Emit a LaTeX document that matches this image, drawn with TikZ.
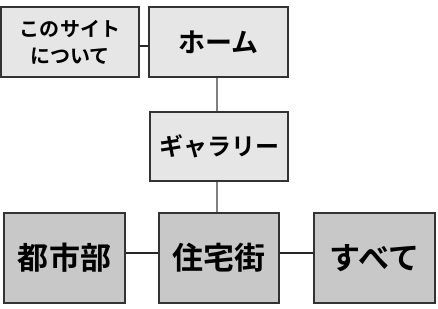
\documentclass[tikz,border=0pt]{standalone}
\usepackage{fontspec}
\newfontfamily\jpfont{Noto Sans CJK JP}[BoldFont=* Bold]
\definecolor{toplight}{HTML}{E6E6E6}
\definecolor{botdark}{HTML}{C8C8C8}
\definecolor{linkgray}{HTML}{808080}
\tikzset{
  pagebox/.style={draw=black!80, line width=1.2bp, align=center, inner sep=0pt, font=\jpfont\bfseries},
  upperbox/.style={pagebox, fill=toplight},
  lowerbox/.style={pagebox, fill=botdark, minimum width=121bp, minimum height=90bp, font=\jpfont\bfseries\fontsize{31bp}{34bp}\selectfont},
  link/.style={line width=1.2bp, black!85},
  downlink/.style={line width=1.6bp, linkgray}
}
\begin{document}
\begin{tikzpicture}[x=1bp, y=-1bp]
    \useasboundingbox (0,0) rectangle (438,308);
    \node[upperbox, minimum width=138bp, minimum height=70bp, font=\jpfont\bfseries\fontsize{20bp}{27bp}\selectfont] (about) at (70,42) {このサイト\\について};
    \node[upperbox, minimum width=139bp, minimum height=70bp, font=\jpfont\bfseries\fontsize{27bp}{30bp}\selectfont] (home) at (218.5,42) {ホーム};
    \node[upperbox, minimum width=138bp, minimum height=69bp, font=\jpfont\bfseries\fontsize{24bp}{28bp}\selectfont] (gallery) at (219,146.5) {ギャラリー};
    \node[lowerbox] (city) at (64.5,258) {都市部};
    \node[lowerbox, minimum width=120bp] (suburb) at (219,258) {住宅街};
    \node[lowerbox] (all) at (374.5,258) {すべて};
    \draw[link] ([yshift=-4bp]about.east) -- ([yshift=-4bp]home.west);
    \draw[downlink] ([xshift=-1.5bp]home.south) -- ([xshift=-2bp]gallery.north);
    \draw[downlink] ([xshift=-2bp]gallery.south) -- ([xshift=-2bp]suburb.north);
    \draw[link] ([yshift=5bp]city.east) -- ([yshift=5bp]suburb.west);
    \draw[link] ([yshift=5bp]suburb.east) -- ([yshift=5bp]all.west);
\end{tikzpicture}
\end{document}
